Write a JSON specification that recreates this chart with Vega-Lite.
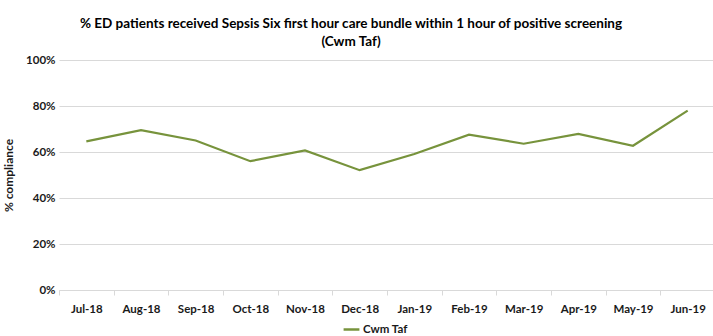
{
  "$schema": "https://vega.github.io/schema/vega-lite/v6.json",
  "autosize": "none",
  "width": 656,
  "height": 230,
  "padding": {"left": 59, "top": 60, "right": 0, "bottom": 46},
  "background": "white",
  "title": {
    "text": ["% ED patients received Sepsis Six first hour care bundle within 1 hour of positive screening", "(Cwm Taf)"],
    "font": "Lato",
    "fontSize": 13.5,
    "fontWeight": "bold",
    "color": "#000000",
    "anchor": "middle",
    "dx": -36,
    "offset": 6,
    "lineHeight": 18
  },
  "data": {
    "values": [
      {"month": "Jul-18", "value": 0.646, "series": "Cwm Taf"},
      {"month": "Aug-18", "value": 0.695, "series": "Cwm Taf"},
      {"month": "Sep-18", "value": 0.650, "series": "Cwm Taf"},
      {"month": "Oct-18", "value": 0.560, "series": "Cwm Taf"},
      {"month": "Nov-18", "value": 0.607, "series": "Cwm Taf"},
      {"month": "Dec-18", "value": 0.521, "series": "Cwm Taf"},
      {"month": "Jan-19", "value": 0.591, "series": "Cwm Taf"},
      {"month": "Feb-19", "value": 0.675, "series": "Cwm Taf"},
      {"month": "Mar-19", "value": 0.636, "series": "Cwm Taf"},
      {"month": "Apr-19", "value": 0.679, "series": "Cwm Taf"},
      {"month": "May-19", "value": 0.627, "series": "Cwm Taf"},
      {"month": "Jun-19", "value": 0.780, "series": "Cwm Taf"}
    ]
  },
  "mark": {"type": "line", "strokeWidth": 2.2},
  "encoding": {
    "x": {
      "field": "month",
      "type": "ordinal",
      "sort": null,
      "scale": {"type": "band", "paddingInner": 0, "paddingOuter": 0},
      "axis": {
        "title": null,
        "labelAngle": 0,
        "labelFont": "Lato",
        "labelFontSize": 11.5,
        "labelFontWeight": "bold",
        "labelColor": "#1a1a1a",
        "labelPadding": 8,
        "domainColor": "#d9d9d9",
        "tickColor": "#d9d9d9",
        "tickBand": "extent",
        "tickSize": 5,
        "grid": false
      }
    },
    "y": {
      "field": "value",
      "type": "quantitative",
      "scale": {"domain": [0, 1]},
      "axis": {
        "title": "% compliance",
        "titleFont": "Lato",
        "titleFontSize": 12,
        "titleFontWeight": "bold",
        "titleColor": "#1a1a1a",
        "titlePadding": 10,
        "format": ".0%",
        "values": [0, 0.2, 0.4, 0.6, 0.8, 1],
        "labelFont": "Lato",
        "labelFontSize": 11.5,
        "labelFontWeight": "bold",
        "labelColor": "#1a1a1a",
        "labelPadding": 4,
        "domain": false,
        "ticks": false,
        "gridColor": "#d9d9d9"
      }
    },
    "color": {
      "field": "series",
      "type": "nominal",
      "scale": {"range": ["#77933c"]},
      "legend": {
        "title": null,
        "orient": "none",
        "legendX": 283,
        "legendY": 260,
        "direction": "horizontal",
        "symbolType": "stroke",
        "symbolStrokeWidth": 2.5,
        "symbolSize": 250,
        "labelFont": "Lato",
        "labelFontSize": 11.5,
        "labelFontWeight": "bold",
        "labelColor": "#1a1a1a",
        "labelOffset": 2
      }
    }
  },
  "config": {"view": {"stroke": null}}
}
